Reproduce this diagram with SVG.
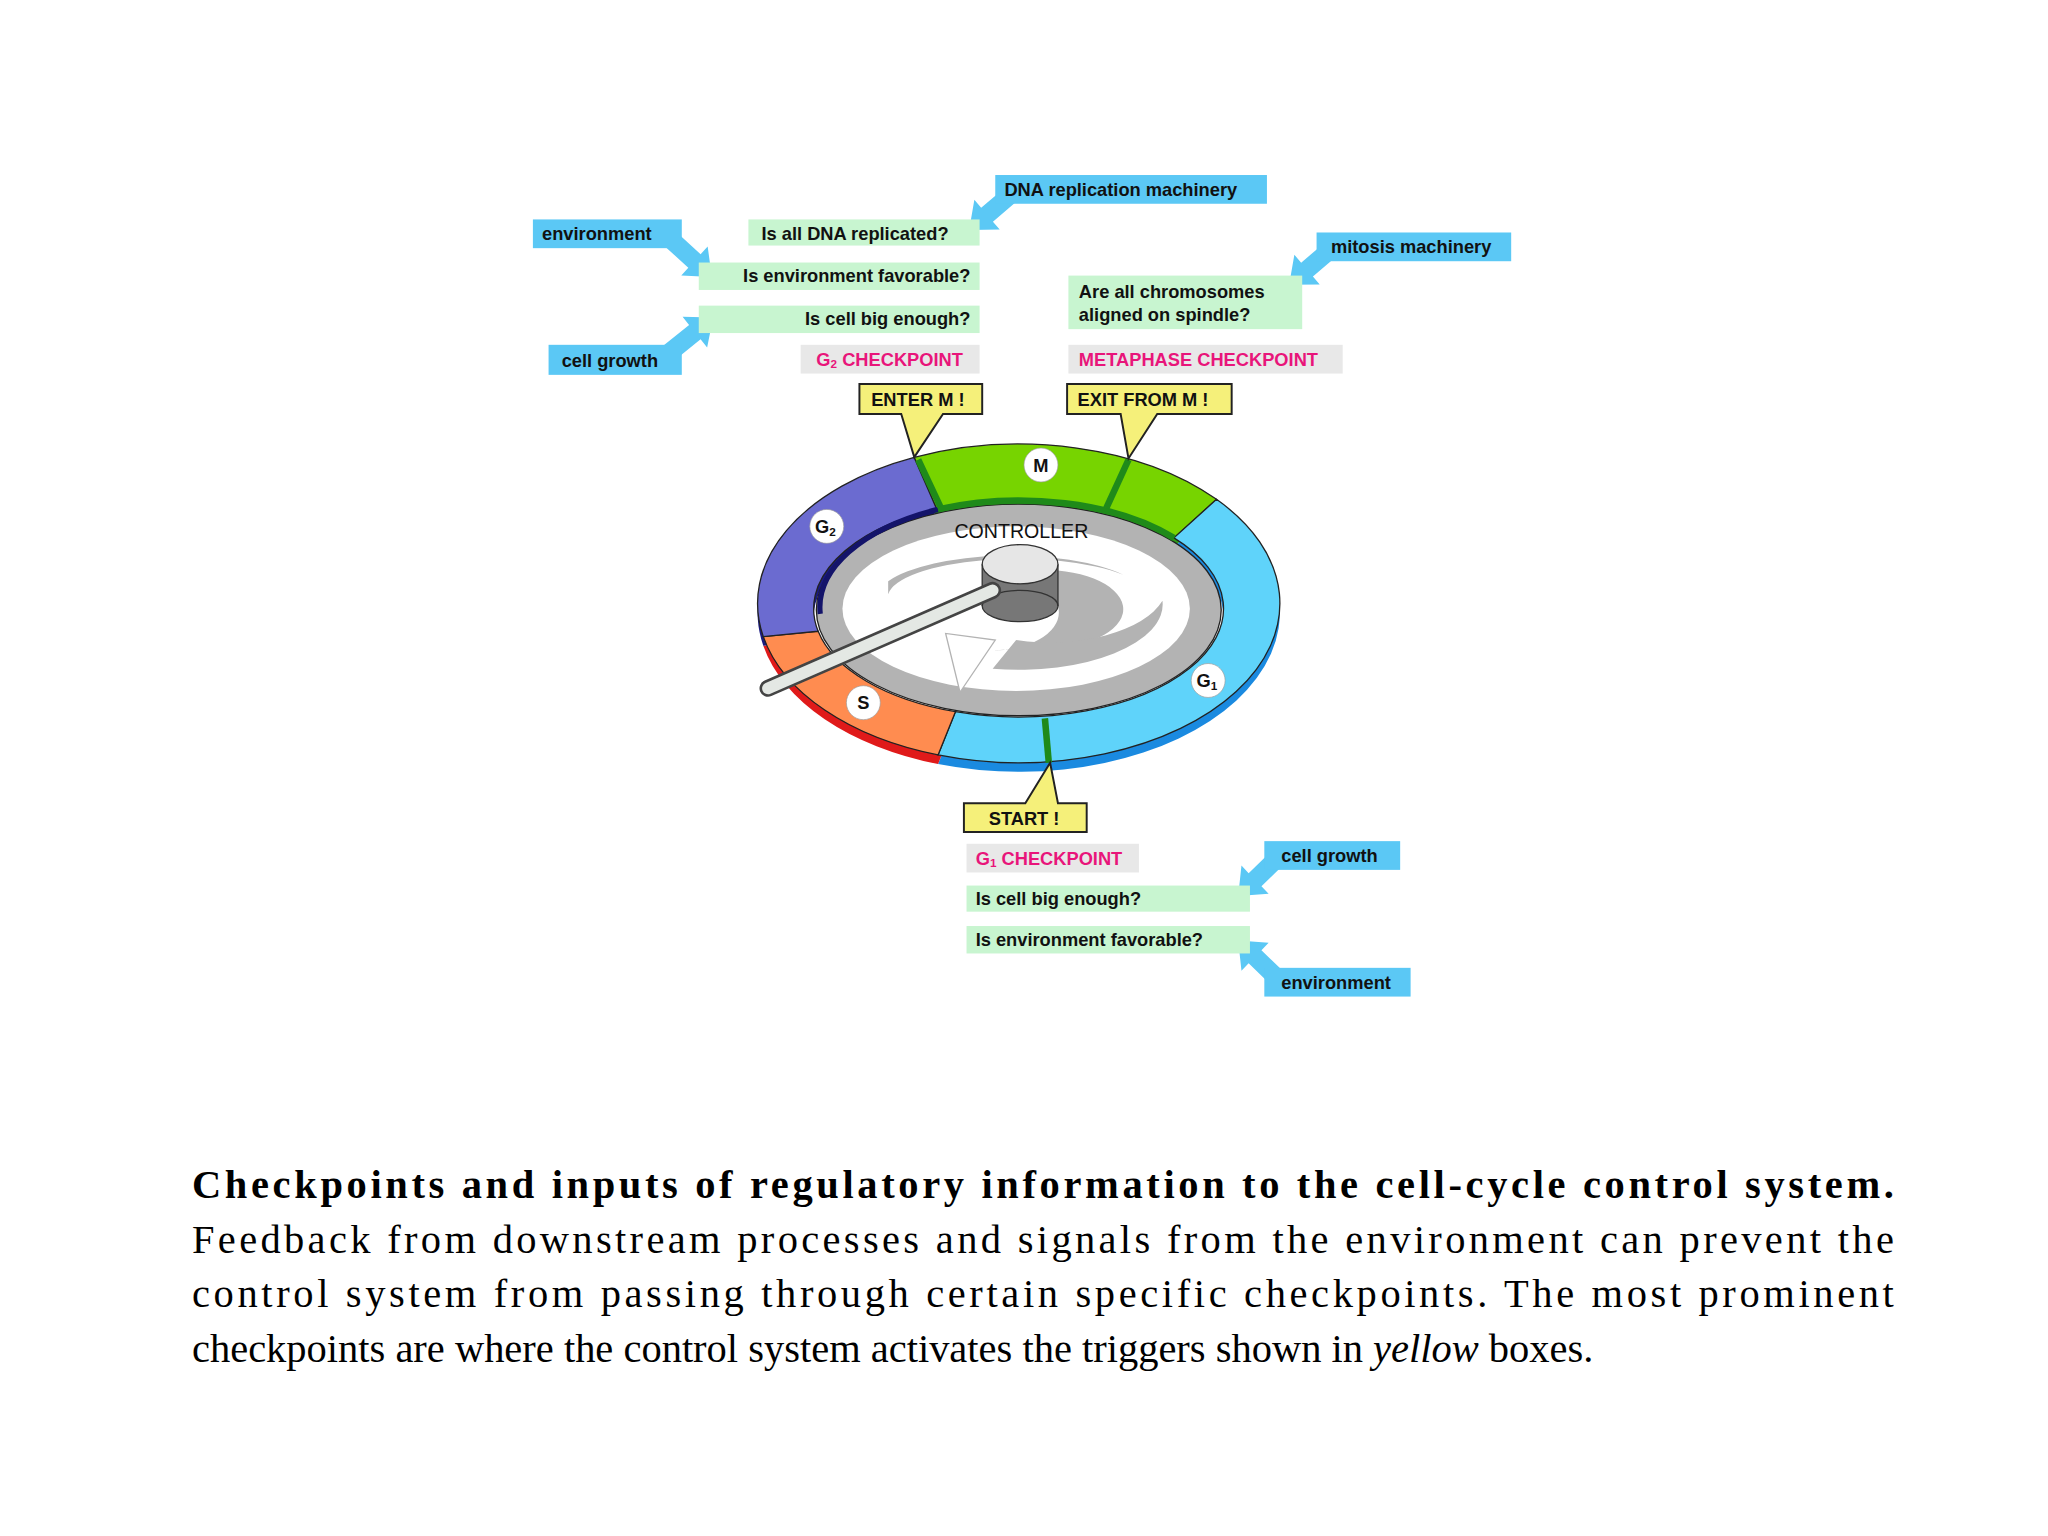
<svg xmlns="http://www.w3.org/2000/svg" width="2048" height="1536" viewBox="0 0 2048 1536">
<style>
.t{font-family:"Liberation Sans",Arial,sans-serif;font-size:14px;font-weight:bold;fill:#111}
.pk{font-family:"Liberation Sans",Arial,sans-serif;font-size:14px;font-weight:bold;fill:#e8157a}
.blue{fill:#5bc8f5}
.grn{fill:#c8f5d0}
.gry{fill:#e8e8e8}
.yel{fill:#f5f07a;stroke:#222;stroke-width:1.5}
.cap{font-family:"Liberation Serif","Times New Roman",serif;font-size:31px;fill:#000}
.lbl{font-family:"Liberation Sans",Arial,sans-serif;font-size:14px;font-weight:bold;fill:#111;text-anchor:middle}
</style>
<rect width="2048" height="1536" fill="#fff"/>
<g transform="scale(1.30612)">
<g id="ring">
<g transform="translate(0,7)" stroke="none">
<path d="M699.9,350.2 A200,122 0 0 1 931.4,382.3 L898.8,411.8 A157,83 0 0 0 717.2,389.9 Z" fill="#2e9a1a"/>
<path d="M931.4,382.3 A200,122 0 0 1 718.2,578 L731.5,544.9 A157,83 0 0 0 898.8,411.8 Z" fill="#1a8ae0"/>
<path d="M718.2,578 A200,122 0 0 1 584.4,487.4 L626.4,483.3 A157,83 0 0 0 731.5,544.9 Z" fill="#e01a1a"/>
<path d="M584.4,487.4 A200,122 0 0 1 699.9,350.2 L717.2,389.9 A157,83 0 0 0 626.4,483.3 Z" fill="#1a1a80"/>
</g>
<g stroke="#222" stroke-width="1">
<path d="M699.9,350.2 A200,122 0 0 1 931.4,382.3 L898.8,411.8 A157,83 0 0 0 717.2,389.9 Z" fill="#77d400"/>
<path d="M931.4,382.3 A200,122 0 0 1 718.2,578 L731.5,544.9 A157,83 0 0 0 898.8,411.8 Z" fill="#5fd3fa"/>
<path d="M718.2,578 A200,122 0 0 1 584.4,487.4 L626.4,483.3 A157,83 0 0 0 731.5,544.9 Z" fill="#ff8c50"/>
<path d="M584.4,487.4 A200,122 0 0 1 699.9,350.2 L717.2,389.9 A157,83 0 0 0 626.4,483.3 Z" fill="#6b6bd0"/>
</g>
<ellipse cx="780" cy="467" rx="155" ry="81" fill="#b3b3b3" stroke="#222" stroke-width="1"/>
<path d="M718,390 A157,83 0 0 1 899,412" fill="none" stroke="#1f8a1a" stroke-width="5"/>
<path d="M628,470 A157,83 0 0 1 718,390" fill="none" stroke="#14146a" stroke-width="4"/>
<g stroke="#1f8a1a" stroke-width="5">
<line x1="703" y1="352" x2="720" y2="388"/>
<line x1="864" y1="352" x2="847" y2="389"/>
<line x1="803" y1="584" x2="800" y2="550"/>
</g>
<ellipse cx="778" cy="466" rx="133" ry="63" fill="#fff"/>
<path d="M740,466 A60,30 0 1 1 790,496 L760,498 A35,20 0 0 0 760,440 Z" fill="#b3b3b3"/>
<path d="M778,490 A90,45 0 0 0 890,460 A110,50 0 0 1 760,512 Z" fill="#b3b3b3"/>
<path d="M680,445 A105,35 0 0 1 860,440 A100,30 0 0 0 680,455 Z" fill="#b3b3b3"/>
<path d="M735,530 L724,485 L762,490 Z" fill="#fff" stroke="#b3b3b3" stroke-width="1"/>
<rect x="752" y="432" width="58" height="32" fill="#777"/>
<ellipse cx="781" cy="464" rx="29" ry="12" fill="#777" stroke="#333"/>
<line x1="752" y1="432" x2="752" y2="464" stroke="#333"/>
<line x1="810" y1="432" x2="810" y2="464" stroke="#333"/>
<line x1="760" y1="452" x2="588" y2="527" stroke="#444" stroke-width="13" stroke-linecap="round"/>
<line x1="760" y1="452" x2="588" y2="527" stroke="#e4e8e4" stroke-width="9" stroke-linecap="round"/>
<ellipse cx="781" cy="432" rx="29" ry="15" fill="#e6e6e6" stroke="#333"/>
<text class="lbl" x="782" y="412" font-weight="normal" style="font-weight:normal;font-size:15px">CONTROLLER</text>
<g fill="#fff" stroke="#999" stroke-width="0.5">
<circle cx="797" cy="356" r="13"/><circle cx="633" cy="403" r="13"/><circle cx="661" cy="538" r="13"/><circle cx="925" cy="521" r="13"/>
</g>
<text class="lbl" x="797" y="361">M</text>
<text class="lbl" x="632" y="408">G<tspan font-size="9" dy="2">2</tspan></text>
<text class="lbl" x="661" y="543">S</text>
<text class="lbl" x="924" y="526">G<tspan font-size="9" dy="2">1</tspan></text>
</g>
<g id="connectors" class="blue">
<polygon points="505.3,185.2 527,205 521.6,210.9 545,212 541.8,188.7 536.4,194.6 514.7,174.8"/>
<polygon points="514.4,277.5 536.4,259.8 541.4,266 546,243 522.6,242.6 527.6,248.9 505.6,266.5"/>
<polygon points="770.5,142.7 751.2,159.1 746,153 742,176 765.4,175.8 760.2,169.7 779.5,153.3"/>
<polygon points="1015.5,184.7 996.2,201.1 991,195 987,218 1010.4,217.8 1005.2,211.7 1024.5,195.3"/>
<polygon points="975.1,650 956,668.5 950.5,662.7 948,686 971.3,684.3 965.8,678.5 984.9,660"/>
<polygon points="984.9,746 965.8,727.5 971.3,721.7 948,720 950.5,743.3 956,737.5 975.1,756"/>
</g>
<g id="n-env1"><rect class="blue" x="408" y="168" width="114" height="22"/><text class="t" x="415" y="184">environment</text></g>
<g id="n-dna"><rect class="grn" x="573" y="168" width="177" height="20"/><text class="t" x="583" y="184">Is all DNA replicated?</text></g>
<g id="n-dnamach"><rect class="blue" x="762" y="134" width="208" height="22"/><text class="t" x="769" y="150">DNA replication machinery</text></g>
<g id="n-envq"><rect class="grn" x="535" y="201" width="215" height="21"/><text class="t" x="743" y="216" text-anchor="end">Is environment favorable?</text></g>
<g id="n-bigq"><rect class="grn" x="535" y="234" width="215" height="21"/><text class="t" x="743" y="249" text-anchor="end">Is cell big enough?</text></g>
<g id="n-growth1"><rect class="blue" x="420" y="264" width="102" height="23"/><text class="t" x="430" y="281">cell growth</text></g>
<g id="n-g2cp"><rect class="gry" x="613" y="264" width="137" height="22"/><text class="pk" x="625" y="280">G<tspan font-size="9" dy="2">2</tspan><tspan dy="-2"> CHECKPOINT</tspan></text></g>
<g id="n-enterm"><path class="yel" d="M658,294 H752 V317 H722 L700,350 L690,317 H658 Z"/><text class="t" x="667" y="311">ENTER M !</text></g>
<g id="n-mitmach"><rect class="blue" x="1008" y="178" width="149" height="22"/><text class="t" x="1019" y="194">mitosis machinery</text></g>
<g id="n-chrom"><rect class="grn" x="818" y="211" width="179" height="41"/><text class="t" x="826" y="228">Are all chromosomes</text><text class="t" x="826" y="246">aligned on spindle?</text></g>
<g id="n-metacp"><rect class="gry" x="818" y="264" width="210" height="22"/><text class="pk" x="826" y="280">METAPHASE CHECKPOINT</text></g>
<g id="n-exitm"><path class="yel" d="M817,294 H943 V317 H886 L864,351 L858,317 H817 Z"/><text class="t" x="825" y="311">EXIT FROM M !</text></g>
<g id="n-start"><path class="yel" d="M738,615 H785 L804,584 L810,615 H832 V637 H738 Z"/><text class="t" x="757" y="632">START !</text></g>
<g id="n-g1cp"><rect class="gry" x="740" y="646" width="132" height="22"/><text class="pk" x="747" y="662">G<tspan font-size="9" dy="2">1</tspan><tspan dy="-2"> CHECKPOINT</tspan></text></g>
<g id="n-bigq2"><rect class="grn" x="740" y="678" width="217" height="20"/><text class="t" x="747" y="693">Is cell big enough?</text></g>
<g id="n-envq2"><rect class="grn" x="740" y="709" width="217" height="21"/><text class="t" x="747" y="724">Is environment favorable?</text></g>
<g id="n-growth2"><rect class="blue" x="968" y="644" width="104" height="22"/><text class="t" x="981" y="660">cell growth</text></g>
<g id="n-env2"><rect class="blue" x="968" y="741" width="112" height="22"/><text class="t" x="981" y="757">environment</text></g>
<g id="caption">
<text class="cap" x="147" y="917" font-weight="bold" textLength="1303" lengthAdjust="spacing">Checkpoints and inputs of regulatory information to the cell-cycle control system.</text>
<text class="cap" x="147" y="959" textLength="1303" lengthAdjust="spacing">Feedback from downstream processes and signals from the environment can prevent the</text>
<text class="cap" x="147" y="1001" textLength="1303" lengthAdjust="spacing">control system from passing through certain specific checkpoints. The most prominent</text>
<text class="cap" x="147" y="1043">checkpoints are where the control system activates the triggers shown in <tspan font-style="italic">yellow</tspan> boxes.</text>
</g>
</g>
</svg>
